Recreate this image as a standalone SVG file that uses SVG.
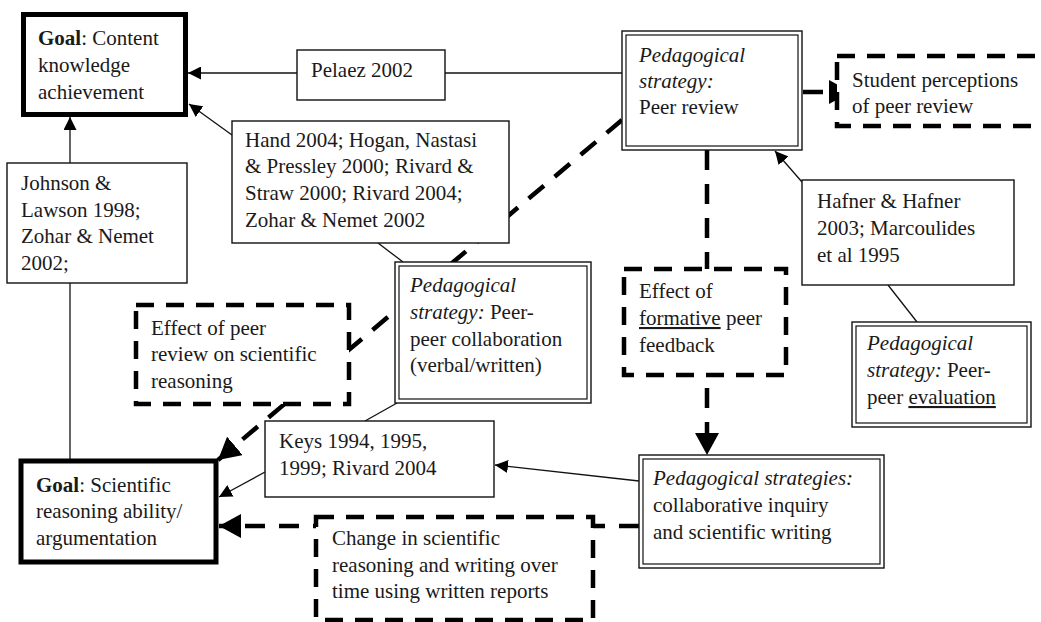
<svg xmlns="http://www.w3.org/2000/svg" width="1041" height="622" viewBox="0 0 1041 622" font-family="'Liberation Serif', 'Times New Roman', 'DejaVu Serif', serif">
<style>
text{font-family:'Liberation Serif','Times New Roman','DejaVu Serif',serif;font-size:21px;fill:#1a1a1a}
.b{font-weight:bold}
.i{font-style:italic}
.u{text-decoration:underline}
.box{fill:#fff;stroke:#111;stroke-width:1.4}
.thick{fill:#fff;stroke:#000;stroke-width:5}
.dbl{fill:none;stroke:#111;stroke-width:1.2}
.dash{fill:#fff;stroke:#000;stroke-width:4.5;stroke-dasharray:18 12}
.thin{fill:none;stroke:#111;stroke-width:1.3}
.dc{fill:none;stroke:#000;stroke-width:4.5;stroke-dasharray:20 14}
</style>
<defs>
<marker id="a" markerUnits="userSpaceOnUse" markerWidth="13" markerHeight="13" refX="13" refY="6.5" orient="auto"><path d="M0,0 L13,6.5 L0,13 z" fill="#000"/></marker>
<marker id="A" markerUnits="userSpaceOnUse" markerWidth="22" markerHeight="24" refX="22" refY="12" orient="auto"><path d="M0,0 L22,12 L0,24 z" fill="#000"/></marker>
</defs>
<g id="connectors">
<line class="dc" x1="622" y1="120" x2="218" y2="460" marker-end="url(#A)"/>
<line class="dc" x1="707" y1="150" x2="707" y2="455" marker-end="url(#A)"/>
<line class="dc" x1="639" y1="526" x2="219" y2="526" marker-end="url(#A)"/>
<line class="dc" x1="803" y1="92" x2="851" y2="92" marker-end="url(#A)"/>
<line class="thin" x1="297" y1="73" x2="188" y2="73" marker-end="url(#a)"/>
<line class="thin" x1="622" y1="73" x2="445" y2="73"/>
<line class="thin" x1="70" y1="163" x2="70" y2="117" marker-end="url(#a)"/>
<line class="thin" x1="70" y1="283" x2="70" y2="459"/>
<line class="thin" x1="232" y1="135" x2="189" y2="104" marker-end="url(#a)"/>
<line class="thin" x1="378" y1="243" x2="403" y2="262"/>
<line class="thin" x1="397" y1="403" x2="365" y2="421"/>
<line class="thin" x1="265" y1="472" x2="219" y2="497" marker-end="url(#a)"/>
<line class="thin" x1="639" y1="481" x2="495" y2="465" marker-end="url(#a)"/>
<line class="thin" x1="802" y1="182" x2="775" y2="151" marker-end="url(#a)"/>
<line class="thin" x1="888" y1="285" x2="917" y2="322"/>
</g>
<g id="goal-content">
<rect class="thick" x="23.5" y="14.5" width="162" height="100"/>
<text x="38" y="45"><tspan class="b">Goal</tspan>:  Content</text>
<text x="38" y="72">knowledge</text>
<text x="38" y="99">achievement</text>
</g>
<g id="pelaez">
<rect class="box" x="297" y="50" width="148" height="50"/>
<text x="311" y="77">Pelaez  2002</text>
</g>
<g id="peer-review">
<rect class="box" x="622" y="31" width="180" height="119"/>
<rect class="dbl" x="626" y="35" width="172" height="111"/>
<text x="639" y="62" class="i">Pedagogical</text>
<text x="639" y="88" class="i">strategy:</text>
<text x="639" y="114">Peer review</text>
</g>
<g id="student-perceptions">
<rect class="dash" x="837" y="56" width="212" height="70"/>
<text x="852" y="87">Student  perceptions</text>
<text x="852" y="113">of peer  review</text>
</g>
<g id="hand">
<rect class="box" x="232" y="121" width="277" height="122"/>
<text x="245" y="147">Hand 2004; Hogan, Nastasi</text>
<text x="245" y="173">&amp; Pressley 2000; Rivard &amp;</text>
<text x="245" y="200">Straw 2000; Rivard 2004;</text>
<text x="245" y="227">Zohar  &amp; Nemet 2002</text>
</g>
<g id="johnson">
<rect class="box" x="7" y="163" width="180" height="120"/>
<text x="21" y="190">Johnson &amp;</text>
<text x="21" y="217">Lawson 1998;</text>
<text x="21" y="243">Zohar  &amp; Nemet</text>
<text x="21" y="270">2002;</text>
</g>
<g id="effect-peer-review">
<rect class="dash" x="136" y="305" width="213" height="99"/>
<text x="151" y="335">Effect  of peer</text>
<text x="151" y="361">review  on scientific</text>
<text x="151" y="388">reasoning</text>
</g>
<g id="peer-collaboration">
<rect class="box" x="395" y="262" width="196" height="141"/>
<rect class="dbl" x="399" y="266" width="188" height="133"/>
<text x="410" y="292" class="i">Pedagogical</text>
<text x="410" y="319"><tspan class="i">strategy:</tspan>  Peer-</text>
<text x="410" y="346">peer collaboration</text>
<text x="410" y="372">(verbal/written)</text>
</g>
<g id="effect-formative">
<rect class="dash" x="624" y="269" width="162" height="106"/>
<text x="639" y="298">Effect  of</text>
<text x="639" y="325"><tspan class="u">formative</tspan>  peer</text>
<text x="639" y="352">feedback</text>
</g>
<g id="hafner">
<rect class="box" x="802" y="180" width="212" height="105"/>
<text x="817" y="208">Hafner &amp; Hafner</text>
<text x="817" y="235">2003; Marcoulides</text>
<text x="817" y="262">et al 1995</text>
</g>
<g id="peer-evaluation">
<rect class="box" x="852" y="322" width="179" height="105"/>
<rect class="dbl" x="856" y="326" width="171" height="97"/>
<text x="867" y="350" class="i">Pedagogical</text>
<text x="867" y="377"><tspan class="i">strategy:</tspan>  Peer-</text>
<text x="867" y="404">peer <tspan class="u">evaluation</tspan></text>
</g>
<g id="goal-scientific">
<rect class="thick" x="21" y="461" width="195" height="101"/>
<text x="36" y="492"><tspan class="b">Goal</tspan>:  Scientific</text>
<text x="36" y="518">reasoning  ability/</text>
<text x="36" y="545">argumentation</text>
</g>
<g id="keys">
<rect class="box" x="265" y="421" width="229" height="76"/>
<text x="279" y="448">Keys 1994, 1995,</text>
<text x="279" y="475">1999; Rivard  2004</text>
</g>
<g id="collaborative-inquiry">
<rect class="box" x="639" y="455" width="245" height="113"/>
<rect class="dbl" x="643" y="459" width="237" height="105"/>
<text x="653" y="485" class="i">Pedagogical  strategies:</text>
<text x="653" y="512">collaborative  inquiry</text>
<text x="653" y="539">and scientific  writing</text>
</g>
<g id="change">
<rect class="dash" x="316" y="517" width="277" height="103"/>
<text x="332" y="545">Change  in scientific</text>
<text x="332" y="572">reasoning  and  writing  over</text>
<text x="332" y="598">time  using  written  reports</text>
</g>
</svg>
